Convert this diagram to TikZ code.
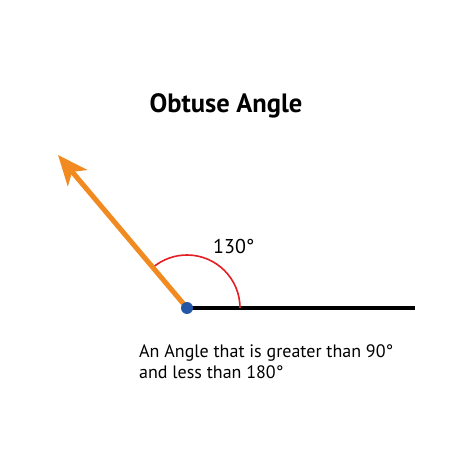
\documentclass[tikz,border=0pt]{standalone}
\usepackage{fontspec}
\setmainfont{PT Sans}
\usetikzlibrary{
  arrows.meta,
  positioning
}
\definecolor{rayorange}{HTML}{F18A21}
\definecolor{arcred}{HTML}{E31E24}
\definecolor{dotblue}{HTML}{2456A6}
\tikzset{
  x = 1pt,
  y = 1pt,
  >=Stealth,
  every node/.style = {inner sep=0pt},
  ray/.style = {rayorange, line width=5pt, -{Stealth[length=30pt, width=25pt, inset=8pt]}},
  base ray/.style = {black, line width=4.2pt},
  angle arc/.style = {arcred, line width=1.6pt},
  vertex/.style = {circle, fill=dotblue, minimum size=12pt},
}

\begin{document}
\begin{tikzpicture}
  \useasboundingbox[fill=white] (0,0) rectangle (474,474);
  \node[font=\bfseries\fontsize{26.5}{31}\selectfont, anchor=base] (title) at (226,361) {Obtuse Angle};
  \coordinate (o) at (187,166);
  \coordinate (end) at (415,166);
  \coordinate (tip) at (58,319);
  \draw[base ray] (o) -- (end);
  \draw[angle arc] ([shift={(0:53)}]o) arc[start angle=0, end angle=130, radius=53];
  \draw[ray] (o) -- (tip);
  \node[vertex] (v) at (o) {};
  \node[font=\fontsize{20}{24}\selectfont, anchor=base west] (deg) at (213,220) {130°};
  % the base of a two-line node is its last line
  \node[font=\fontsize{18}{21}\selectfont, anchor=base west, align=left] (desc) at (139,95)
    {An Angle that is greater than 90°\\and less than 180°};
\end{tikzpicture}
\end{document}
